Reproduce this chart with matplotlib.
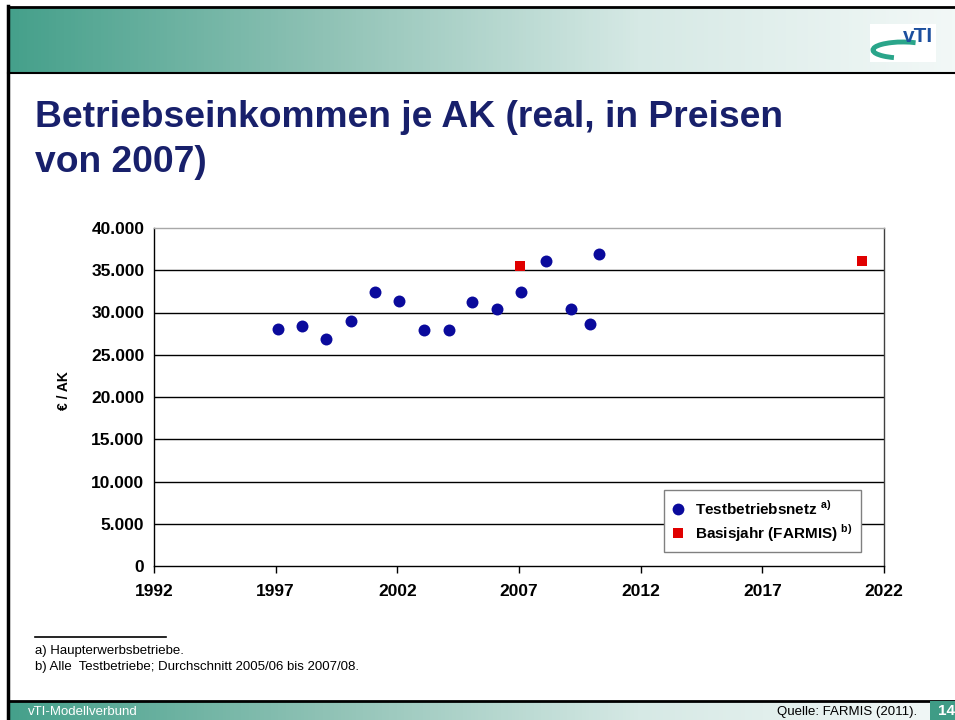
import numpy as np
import matplotlib
matplotlib.use("Agg")
import matplotlib.pyplot as plt
from matplotlib.lines import Line2D
from matplotlib.patches import Rectangle, Arc
from matplotlib.colors import LinearSegmentedColormap

plt.rcParams['font.family'] = ['Liberation Sans', 'DejaVu Sans']
plt.rcParams['mathtext.fontset'] = 'custom'
plt.rcParams['mathtext.rm'] = 'Liberation Sans'
plt.rcParams['mathtext.bf'] = 'Liberation Sans:bold'

# ---- data ----
title = "Betriebseinkommen je AK (real, in Preisen\nvon 2007)"
test_years = [1997.08, 1998.07, 1999.08, 2000.08, 2001.08, 2002.08, 2003.10, 2004.11,
              2005.08, 2006.10, 2007.10, 2008.10, 2009.12, 2009.92, 2010.30]
test_values = [28050, 28360, 26900, 28960, 32470, 31360, 27970, 27890,
               31200, 30400, 32400, 36100, 30400, 28600, 36960]
base_years = [2007.06, 2021.08]
base_values = [35500, 36100]
x_ticks = [1992, 1997, 2002, 2007, 2012, 2017, 2022]
y_ticks = [0, 5000, 10000, 15000, 20000, 25000, 30000, 35000, 40000]
y_label = "€ / AK"
legend_labels = [r"Testbetriebsnetz $^{\mathbf{a)}}$", r"Basisjahr (FARMIS) $^{\mathbf{b)}}$"]
footnotes = ["a) Haupterwerbsbetriebe.", "b) Alle  Testbetriebe; Durchschnitt 2005/06 bis 2007/08."]

W, H = 955, 720
fig = plt.figure(figsize=(W / 100, H / 100), dpi=100)

# ---- background decorations ----
bg = fig.add_axes([0, 0, 1, 1])
bg.axis('off')
cmap = LinearSegmentedColormap.from_list('g', ['#45a08b', '#8fc2b5', '#d6e9e5', '#f2f8f7'])
grad = np.linspace(0, 1, 256).reshape(1, -1)
bg.imshow(grad, cmap=cmap, extent=[8, W, 73, 8], aspect='auto', zorder=0)
bg.imshow(grad, cmap=cmap, extent=[8, W, 720, 701], aspect='auto', zorder=0)
bg.plot([8, W], [7, 7], color='black', lw=2, zorder=2)
bg.plot([8, W], [73, 73], color='black', lw=1.5, zorder=2)
bg.plot([8, W], [700.5, 700.5], color='black', lw=2, zorder=2)
bg.plot([8, 8], [6, 720], color='black', lw=2.5, zorder=2)
bg.set_xlim(0, W)
bg.set_ylim(H, 0)
# logo
bg.add_patch(Rectangle((870, 24), 66, 38, facecolor='white', edgecolor='none', zorder=1))
bg.add_patch(Arc((903, 50), 60, 16, theta1=140, theta2=330, edgecolor='#2aa58a', lw=3.5, zorder=2))
bg.text(918, 37, "vTI", color='#1c4f9e', fontsize=15, fontweight='bold', ha='center', va='center', zorder=3)
# page number box
bg.add_patch(Rectangle((930, 701), 25, 19, facecolor='#3f9c86', edgecolor='none', zorder=2))
bg.text(938, 711, "14", color='white', fontsize=11, fontweight='bold', ha='left', va='center', zorder=3)
bg.text(28, 712, "vTI-Modellverbund", color='white', fontsize=9.5, ha='left', va='center', zorder=3)
bg.text(917, 712, "Quelle: FARMIS (2011).", color='black', fontsize=9.5, ha='right', va='center', zorder=3)

# title
bg.text(35, 172, title, color='#18206b', fontsize=26.8, fontweight='bold', ha='left',
        va='baseline', linespacing=1.38, zorder=3)

# footnotes
bg.plot([35, 166], [637, 637], color='black', lw=1.2)
bg.text(35, 651, footnotes[0], fontsize=9.5, ha='left', va='center')
bg.text(35, 667, footnotes[1], fontsize=9.5, ha='left', va='center')

# ---- chart ----
ax = fig.add_axes([154 / W, 1 - 566 / H, 730 / W, 338 / H])
ax.set_xlim(1992, 2022)
ax.set_ylim(0, 40000)
ax.set_xticks(x_ticks)
ax.set_yticks(y_ticks)
ax.set_yticklabels([f"{v:,}".replace(",", ".") for v in y_ticks])
ax.set_xticklabels([str(v) for v in x_ticks])
for lab in ax.get_xticklabels() + ax.get_yticklabels():
    lab.set_fontweight('bold')
    lab.set_fontsize(12.5)
ax.tick_params(axis='both', direction='out', length=5, width=1, color='black')
ax.tick_params(axis='x', pad=8)
ax.tick_params(axis='y', length=0, pad=7)
for y in y_ticks[1:-1]:
    ax.axhline(y, color='black', lw=1, zorder=1)
ax.spines['top'].set_color('#a8a8a8')
ax.spines['right'].set_color('#404040')
ax.spines['left'].set_color('black')
ax.spines['bottom'].set_color('black')
for s in ax.spines.values():
    s.set_linewidth(1)

ax.plot(test_years, test_values, 'o', color='#0a0a9c', markersize=8.6, markeredgewidth=0, zorder=3)
ax.plot(base_years, base_values, 's', color='#e00000', markersize=7.4, markeredgewidth=0, zorder=3)

ax.set_ylabel(y_label, fontsize=10, fontweight='bold')
ax.yaxis.set_label_coords((71 - 154) / 730, 0.52)

handles = [Line2D([], [], marker='o', ls='none', color='#0a0a9c', markersize=8.5, markeredgewidth=0),
           Line2D([], [], marker='s', ls='none', color='#e00000', markersize=7.2, markeredgewidth=0)]
leg = ax.legend(handles, legend_labels, loc='lower right',
                bbox_to_anchor=((861 - 154) / 730, (566 - 552) / 338), borderaxespad=0,
                fancybox=False, framealpha=1, edgecolor='#808080', prop={'weight': 'bold', 'size': 11},
                handlelength=0.8, handletextpad=0.7, borderpad=0.55, labelspacing=0.3)
leg.get_frame().set_linewidth(1)

fig.savefig("out.png", dpi=100)
